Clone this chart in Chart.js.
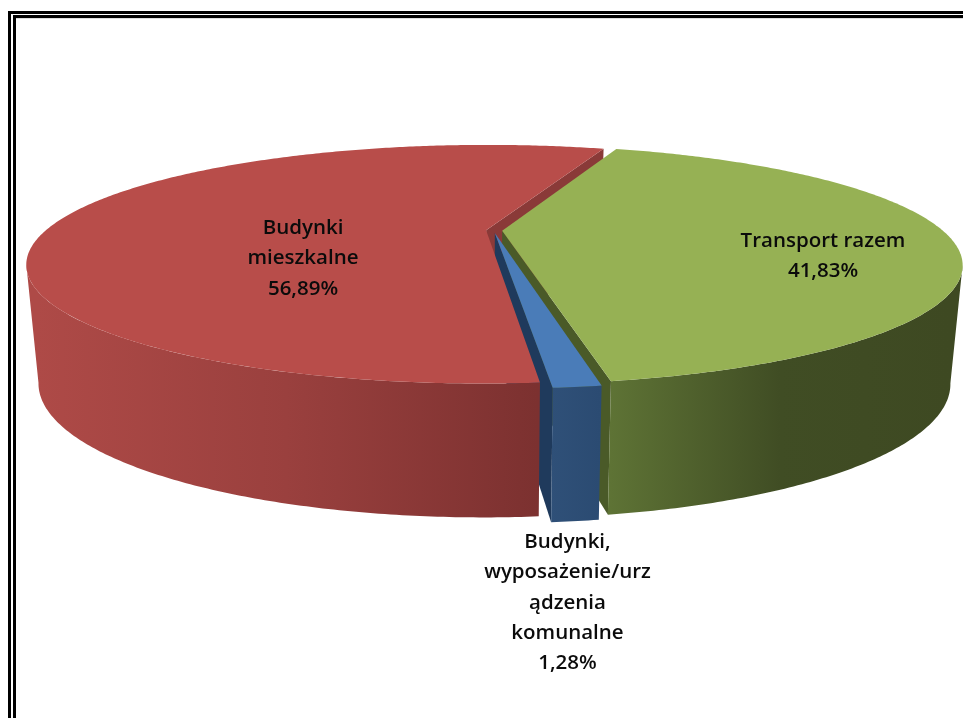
<!DOCTYPE html>
<html><head><meta charset="utf-8">
<style>html,body{margin:0;padding:0;background:#fff;overflow:hidden}canvas{display:block}</style>
<script src="https://cdn.jsdelivr.net/npm/chart.js@4/dist/chart.umd.js"></script>
</head><body><canvas id="c" width="963" height="718"></canvas>
<script>
const categories = [["Transport razem"], ["Budynki,","wyposażenie/urz","ądzenia","komunalne"], ["Budynki","mieszkalne"]];
const values = [41.83, 1.28, 56.89];
const percentLabels = ["41,83%", "1,28%", "56,89%"];
const explode = [7, 8, 6];
const topColors = ["#96B154", "#4A7CB8", "#B84D4A"];
const radialColors = ["#4A5A28", "#1F3A5C", "#8A3A38"];
const wallStops = [
  [[0,"#5E7335"],[0.5,"#404D24"],[1,"#3E4922"]],
  [[0,"#2F5078"],[1,"#2B4B72"]],
  [[0,"#AE4A47"],[0.5,"#9A403E"],[1,"#7C3130"]]
];
const wallRange = [[610,950],[550,600],[37,537]];
const labelCenters = [[823,241],[567.5,542],[303,228]];
const lineStep = 30.4;

const K = 0.2845, CX = 493.5;
const TOP = {cy:230.5, ry:109.8, rx:440.5};
const BOT = {cy:344.6, ry:124, rx:429};
const FRONT0 = Math.asin(K), FRONT1 = Math.PI-FRONT0;
function pt(el, lvl, r, a){
  const mid=(el.startAngle+el.endAngle)/2, o=el.options.offset/el.outerRadius;
  const u=o*Math.cos(mid)+r*Math.cos(a), v=o*Math.sin(mid)+r*Math.sin(a);
  const w=1/(1-K*v);
  return [CX+lvl.rx*u*w, lvl.cy+lvl.ry*v*w];
}
function rimPath(ctx, el, lvl, from, to, move){
  const n=Math.max(2,Math.ceil(Math.abs(to-from)/0.01));
  for(let i=0;i<=n;i++){
    const p=pt(el,lvl,1,from+(to-from)*i/n);
    if(i===0&&move)ctx.moveTo(p[0],p[1]);else ctx.lineTo(p[0],p[1]);
  }
}
function topFace(ctx, el, color){
  ctx.beginPath();
  const c=pt(el,TOP,0,0);ctx.moveTo(c[0],c[1]);
  rimPath(ctx,el,TOP,el.startAngle,el.endAngle,false);
  ctx.closePath();ctx.fillStyle=color;ctx.fill();
}
function radial(ctx, el, a, color){
  const c1=pt(el,TOP,0,0),r1=pt(el,TOP,1,a),r2=pt(el,BOT,1,a),c2=pt(el,BOT,0,0);
  ctx.beginPath();ctx.moveTo(c1[0],c1[1]);ctx.lineTo(r1[0],r1[1]);ctx.lineTo(r2[0],r2[1]);ctx.lineTo(c2[0],c2[1]);
  ctx.closePath();ctx.fillStyle=color;ctx.fill();
}
function wall(ctx, el, idx){
  const a0=Math.max(el.startAngle,FRONT0), a1=Math.min(el.endAngle,FRONT1);
  const g=ctx.createLinearGradient(wallRange[idx][0],0,wallRange[idx][1],0);
  wallStops[idx].forEach(s=>g.addColorStop(s[0],s[1]));
  ctx.beginPath();
  rimPath(ctx,el,TOP,a0,a1,true);
  rimPath(ctx,el,BOT,a1,a0,false);
  ctx.closePath();ctx.fillStyle=g;ctx.fill();
}
const pie3d = {
  id:'pie3d',
  beforeDatasetDraw(chart,args){
    const ctx=chart.ctx, arcs=chart.getDatasetMeta(args.index).data;
    const [G,B,R]=arcs;
    ctx.save();
    radial(ctx,R,R.endAngle,radialColors[2]);
    radial(ctx,G,G.endAngle,radialColors[0]);
    radial(ctx,B,B.endAngle,radialColors[1]);
    wall(ctx,B,1);
    wall(ctx,R,2);
    wall(ctx,G,0);
    topFace(ctx,G,topColors[0]);
    topFace(ctx,B,topColors[1]);
    topFace(ctx,R,topColors[2]);
    ctx.restore();
    return false;
  },
  afterDraw(chart){
    const ctx=chart.ctx;
    ctx.save();
    ctx.fillStyle="#0b0b0b";ctx.textAlign="center";ctx.textBaseline="middle";
    ctx.font="600 20.5px 'Open Sans'";
    categories.forEach((lines,i)=>{
      const all=lines.concat([percentLabels[i]]);
      all.forEach((t,j)=>ctx.fillText(t,labelCenters[i][0],labelCenters[i][1]+j*lineStep));
    });
    // frame
    ctx.fillStyle="#000";
    ctx.fillRect(8,11,955,3);ctx.fillRect(8,11,3,707);
    ctx.fillRect(13,15,950,3);ctx.fillRect(13,15,3,703);
    ctx.fillStyle="#DDD";ctx.fillRect(16,18,947,1);
    ctx.restore();
  }
};
new Chart(document.getElementById('c'),{
  type:'pie',
  data:{labels:categories.map(l=>l.join(' ')),datasets:[{data:values,backgroundColor:topColors,offset:explode,borderWidth:0}]},
  options:{responsive:false,animation:false,rotation:19.5,plugins:{legend:{display:false},tooltip:{enabled:false}}},
  plugins:[pie3d]
});
</script></body></html>
